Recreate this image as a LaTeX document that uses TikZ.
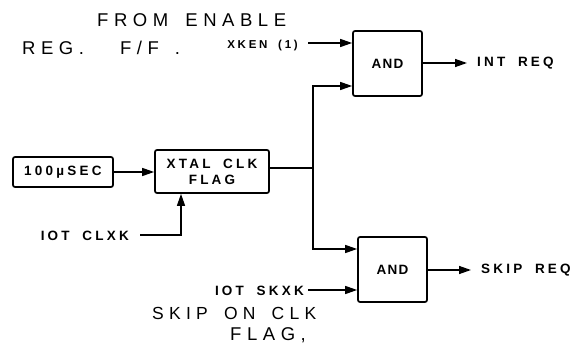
\documentclass[tikz,border=0pt]{standalone}
\usepackage{fontspec}
\setmainfont{Liberation Sans}
\newfontfamily\lblfont[LetterSpace=24,WordSpace=1.8]{Liberation Sans Bold}
\newfontfamily\andfont[LetterSpace=10]{Liberation Sans Bold}
\newfontfamily\handfont[LetterSpace=30,WordSpace=1.6]{Liberation Sans}
\usetikzlibrary{arrows.meta}
\begin{document}
\begin{tikzpicture}[x=1pt,y=-1pt,
  blk/.style={draw,line width=1.7pt,rounded corners=2pt,inner sep=0pt},
  lbl/.style={font=\lblfont\fontsize{13.5}{16}\selectfont,inner sep=0pt},
  andlbl/.style={font=\andfont\fontsize{13.5}{16}\selectfont,inner sep=0pt},
  small/.style={font=\lblfont\fontsize{11.5}{13}\selectfont,inner sep=0pt},
  hand/.style={font=\handfont\fontsize{18.5}{22}\selectfont,inner sep=0pt},
  wire/.style={line width=1.4pt},
  arr/.style={wire,-{Triangle[length=12pt,width=8pt]}}]
\useasboundingbox (0,0) rectangle (574,347);
% blocks
\node[blk,minimum width=69pt,minimum height=65pt] (and1) at (387.5,63.5) {};
\node[andlbl] at (and1) {AND};
\node[blk,minimum width=69pt,minimum height=65pt] (and2) at (392.5,269.5) {};
\node[andlbl] at (and2) {AND};
\node[blk,minimum width=100pt,minimum height=30pt] (osc) at (63,172) {};
\node[lbl] at (osc) {100µSEC};
\node[blk,minimum width=114pt,minimum height=43pt] (flag) at (212,171.5) {};
\node[lbl,align=center] at (flag) {XTAL CLK\\FLAG};
% labels
\node[small,anchor=east] (xken) at (298,46) {XKEN (1)};
\node[lbl,anchor=west] (intreq) at (477,63) {INT REQ};
\node[lbl,anchor=west] (skipreq) at (481,270) {SKIP REQ};
\node[lbl,anchor=east] (iotclxk) at (129,236) {IOT CLXK};
\node[lbl,anchor=east] (iotskxk) at (304,291) {IOT SKXK};
\node[hand,anchor=west] (from) at (97,20) {FROM ENABLE};
\node[hand,anchor=west] (reg) at (22,48) {REG.\hspace{36pt}F/F\hspace{16pt}.};
\node[hand,anchor=west,font=\handfont\fontsize{17.5}{21}\selectfont] (skipon) at (152,313) {SKIP ON CLK};
\node[hand,anchor=west] (flagnote) at (230,335) {FLAG,};
% coordinates
\coordinate (xk) at (308,43);
\coordinate (jt) at (313,86);
\coordinate (jm) at (313,168);
\coordinate (jb) at (313,249);
\coordinate (ck) at (140,235);
\coordinate (ckc) at (181,235);
\coordinate (sk) at (308,290);
% wires
\draw[arr] (xk) -- (xk -| and1.west);
\draw[arr] (osc.east) -- (osc.east -| flag.west);
\draw[wire] (flag.east |- jm) -- (jm);
\draw[arr] (jm) -- (jt) -- (jt -| and1.west);
\draw[arr] (jm) -- (jb) -- (jb -| and2.west);
\draw[arr] (ck) -- (ckc) -- (ckc |- flag.south);
\draw[arr] (sk) -- (sk -| and2.west);
\draw[arr] (and1.east |- intreq) -- (467,63);
\draw[arr] (and2.east |- skipreq) -- (471,270);
\end{tikzpicture}
\end{document}
